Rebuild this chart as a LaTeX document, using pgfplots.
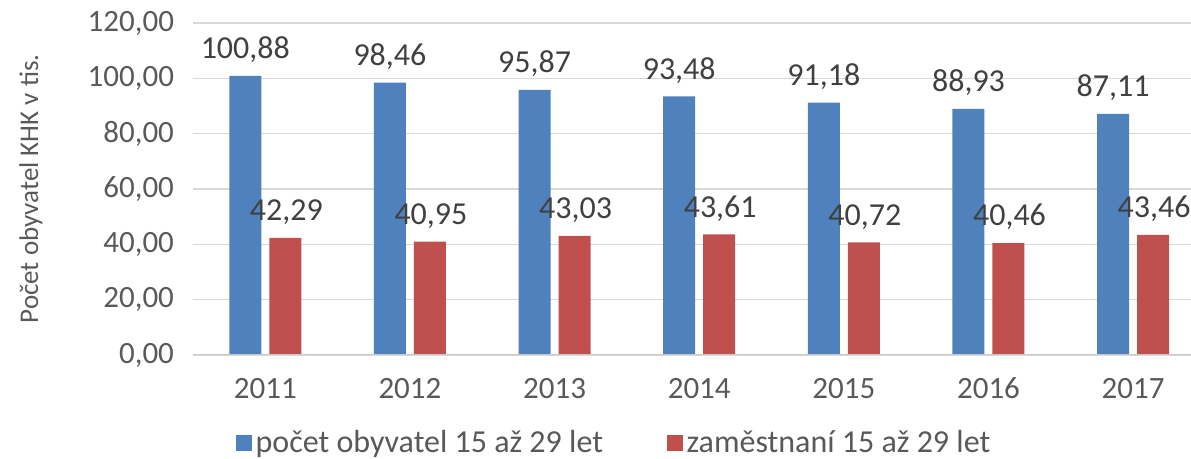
\documentclass[border=0pt]{standalone}
\usepackage{pgfplots}
\pgfplotsset{compat=1.18}
\usepackage{fontspec}
\setmainfont{Carlito}
\definecolor{modra}{HTML}{4F81BD}
\definecolor{cervena}{HTML}{C0504D}
\definecolor{text}{HTML}{595959}
\definecolor{mrizka}{HTML}{D9D9D9}

\begin{document}
\begin{tikzpicture}
\path[use as bounding box] (-96.5pt,-52pt) rectangle (499pt,177.5pt);
\begin{axis}[
    scale only axis,
    width=499pt, height=166pt,
    xmin=-0.5, xmax=6.4,
    ymin=0, ymax=120,
    ytick={0,20,...,120},
    xtick=data,
    xticklabels={2011,2012,2013,2014,2015,2016,2017},
    ybar=4pt, bar width=16pt,
    axis line style={draw=none},
    major tick length=0pt,
    ymajorgrids,
    grid style={mrizka, line width=0.8pt},
    /pgf/number format/use comma,
    /pgf/number format/fixed,
    /pgf/number format/fixed zerofill,
    /pgf/number format/precision=2,
    /pgf/number format/assume math mode=true,
    ticklabel style={font=\fontsize{15.5}{17}\selectfont, text=text},
    yticklabel style={xshift=-6pt},
    xticklabel style={yshift=-8pt},
    ylabel={Počet obyvatel KHK v tis.},
    ylabel style={font=\fontsize{13.5}{15}\selectfont, text=text, at={(rel axis cs:0,0.5)}, yshift=81pt, anchor=center},
    nodes near coords,
    every node near coord/.append style={font=\fontsize{16}{18}\selectfont, text=black!75, yshift=3pt},
    legend style={at={(0.423,-0.265)}, anchor=center, draw=none, legend columns=2,
        font=\fontsize{16}{18}\selectfont, text=text,
        /tikz/every even column/.append style={column sep=30pt}},
    legend image code/.code={\fill[#1, draw=none] (0pt,-3.9pt) rectangle (7.8pt,3.9pt);},
]
\addplot[fill=modra, draw=none] coordinates {(0,100.88) (1,98.46) (2,95.87) (3,93.48) (4,91.18) (5,88.93) (6,87.11)};
\addplot[fill=cervena, draw=none, every node near coord/.append style={xshift=0.5pt}] coordinates {(0,42.29) (1,40.95) (2,43.03) (3,43.61) (4,40.72) (5,40.46) (6,43.46)};
\draw[mrizka!80!gray, line width=0.8pt] (rel axis cs:0,0) -- (rel axis cs:1,0);
\legend{počet obyvatel 15 až 29 let, zaměstnaní 15 až 29 let}
\end{axis}
\end{tikzpicture}
\end{document}
